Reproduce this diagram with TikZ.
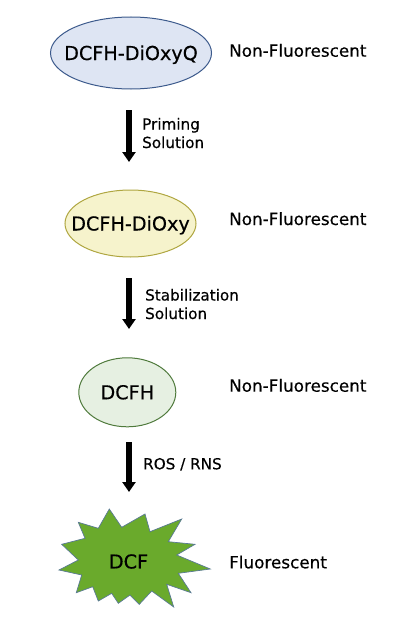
\documentclass[tikz,border=0pt]{standalone}
\usepackage{fontspec}
\setmainfont[FakeBold=0.4]{DejaVu Sans}
\usetikzlibrary{shapes.geometric,arrows.meta}

\definecolor{quinFill}{HTML}{DEE5F3}
\definecolor{quinLine}{HTML}{3C5A8C}
\definecolor{oxyFill}{HTML}{F6F3CC}
\definecolor{oxyLine}{HTML}{AFA640}
\definecolor{dcfhFill}{HTML}{E6F0E2}
\definecolor{dcfhLine}{HTML}{4F7A3C}
\definecolor{burstFill}{HTML}{6AAA2C}
\definecolor{burstLine}{HTML}{5A7A95}

\begin{document}
\begin{tikzpicture}
[x=1pt,y=-1pt,
  stageDecorate/.style={shape=ellipse,draw,line width=1pt,inner xsep=-14pt,inner ysep=0pt,
    text height=14pt,text depth=0pt,font=\fontsize{19.2}{23}\selectfont},%
  stateLabel/.style={anchor=base west,inner sep=0pt,font=\fontsize{16.8}{20}\selectfont},%
  stepLabel/.style={anchor=base west,inner sep=0pt,align=left,font=\fontsize{15.2}{18.5}\selectfont},%
  flowArrow/.style={line width=6pt,-{Triangle[width=13pt,length=10pt]}},%
  burstDecorate/.style={fill=burstFill,draw=burstLine,line width=0.7pt,line join=miter}]
\useasboundingbox (0,0) rectangle (405,618);
%% molecules
\node (quin) at (131,53) [stageDecorate,fill=quinFill,draw=quinLine,
  minimum width=161pt,minimum height=72pt] {DCFH-DiOxyQ};
\node (oxy) at (130.5,223.5) [stageDecorate,fill=oxyFill,draw=oxyLine,
  minimum width=131pt,minimum height=67pt] {DCFH-DiOxy};
\node (dcfh) at (127.3,392.3) [stageDecorate,fill=dcfhFill,draw=dcfhLine,
  minimum width=97pt,minimum height=69pt] {DCFH};
\draw[burstDecorate] plot coordinates {
  (109.3,509) (121.7,527.3) (145,514) (150,531.7) (181.7,519) (168.3,541.7)
  (195,544.3) (176.7,555) (210.3,569) (178.3,573.3) (191,592.7) (166.7,584.3)
  (173.7,607) (151.7,591) (139.3,604.3) (130,595) (118.3,603.3) (111.7,593.3)
  (98.3,601) (92.7,586.7) (76.3,592.7) (81.7,575) (59,570) (78.3,560)
  (61.7,544.3) (85,538.3) (78.3,522.3) (98.3,528.3)} -- cycle;
\node (dcf) at (128.5,561.5) [inner sep=0pt,font=\fontsize{19.2}{23}\selectfont] {DCF};
%% fluorescence states
\foreach \mol/\y/\txt in {
  quin/56.7/Non-Fluorescent, oxy/225/Non-Fluorescent,
  dcfh/391.7/Non-Fluorescent, dcf/568.3/Fluorescent}
{
  \node (\mol state) at (229,\y) [stateLabel] {\txt};
}
%% reaction steps
\foreach \rxn/\ys/\ye/\lx/\ly/\txt in {
  prime/110/162/142/148/{Priming\\Solution},
  stab/278/329/145/319/{Stabilization\\Solution},
  ros/442/492/143/469.3/{ROS / RNS}}
{
  \coordinate (\rxn top) at (129,\ys);
  \coordinate (\rxn tip) at (129,\ye);
  \draw[flowArrow] (\rxn top) -- (\rxn tip);
  \node (\rxn label) at (\lx,\ly) [stepLabel] {\txt};
}
\end{tikzpicture}
\end{document}
